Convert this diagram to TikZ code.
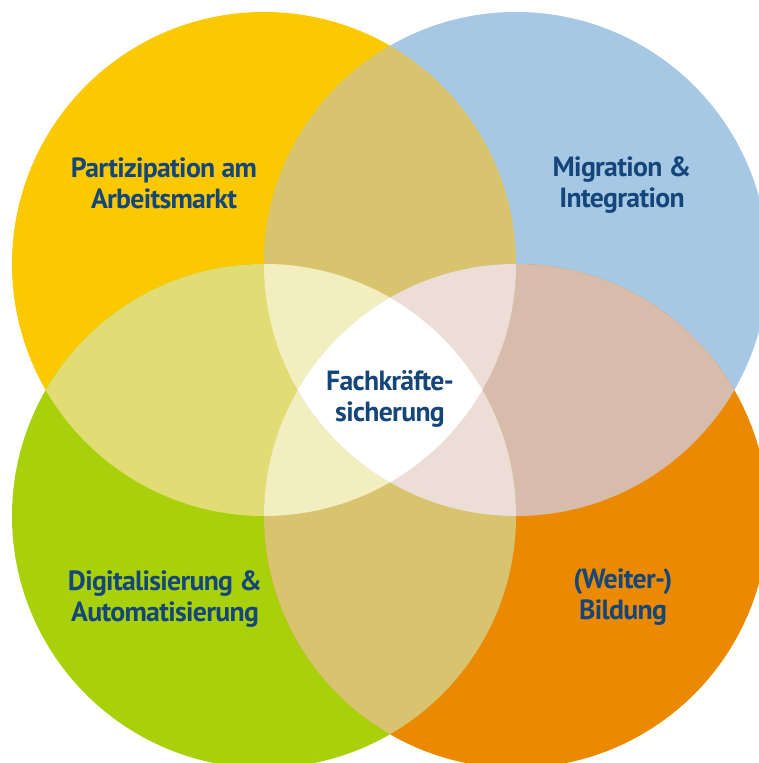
\documentclass[tikz,border=0pt]{standalone}
\usepackage{fontspec}
\setmainfont{PT Sans}[LetterSpace=-2.5]
\definecolor{gelb}{HTML}{FCC900}
\definecolor{hellblau}{HTML}{A6C8E5}
\definecolor{gruen}{HTML}{A8D00B}
\definecolor{orange}{HTML}{EB8900}
\definecolor{oliv}{HTML}{D8C46E}
\definecolor{gelbgruen}{HTML}{E2DC74}
\definecolor{rosebraun}{HTML}{D8BCAB}
\definecolor{hellgelb}{HTML}{F3EEC0}
\definecolor{hellrose}{HTML}{ECDED7}
\definecolor{textblau}{HTML}{15467A}
\begin{document}
\begin{tikzpicture}[x=0.02cm, y=-0.02cm,
  feld/.style={text=textblau, font=\bfseries\fontsize{15.8}{17.6}\selectfont, align=center}]
\useasboundingbox (0,0) rectangle (758,763);
\fill[white] (0,0) rectangle (758,763); % background
\coordinate (tl) at (264,264); % centre top left
\coordinate (tr) at (516,264); % centre top right
\coordinate (bl) at (264,516); % centre bottom left
\coordinate (br) at (516,516); % centre bottom right
\fill[gelb] (tl) circle [radius=252]; % yellow circle
\fill[hellblau] (tr) circle [radius=252]; % blue circle
\fill[gruen] (bl) circle [radius=252]; % green circle
\fill[orange] (br) circle [radius=252]; % orange circle
% two circles
\begin{scope}
\clip (tl) circle [radius=252];
\fill[oliv] (tr) circle [radius=252]; % top lens
\fill[gelbgruen] (bl) circle [radius=252]; % left lens
\end{scope}
\begin{scope}
\clip (br) circle [radius=252];
\fill[rosebraun] (tr) circle [radius=252]; % right lens
\fill[oliv] (bl) circle [radius=252]; % bottom lens
\end{scope}
% three circles
\begin{scope}
\clip (tl) circle [radius=252];
\clip (bl) circle [radius=252];
\fill[hellgelb] (tr) circle [radius=252]; % upper left
\fill[hellgelb] (br) circle [radius=252]; % lower left
\end{scope}
\begin{scope}
\clip (tr) circle [radius=252];
\clip (br) circle [radius=252];
\fill[hellrose] (tl) circle [radius=252]; % upper right
\fill[hellrose] (bl) circle [radius=252]; % lower right
\end{scope}
% all four
\begin{scope}
\clip (tl) circle [radius=252];
\clip (tr) circle [radius=252];
\clip (bl) circle [radius=252];
\fill[white] (br) circle [radius=252]; % centre
\end{scope}
\node[feld] (arbeit) at (164,183) {Partizipation am\\Arbeitsmarkt};
\node[feld] (migration) at (622,185) {Migration \&\\Integration};
\node[feld] (digital) at (165,599) {Digitalisierung \&\\Automatisierung};
\node[feld] (bildung) at (623,597) {(Weiter-)\\Bildung};
\node[feld] (fach) at (390,399) {Fachkräfte-\\sicherung};
\end{tikzpicture}
\end{document}
